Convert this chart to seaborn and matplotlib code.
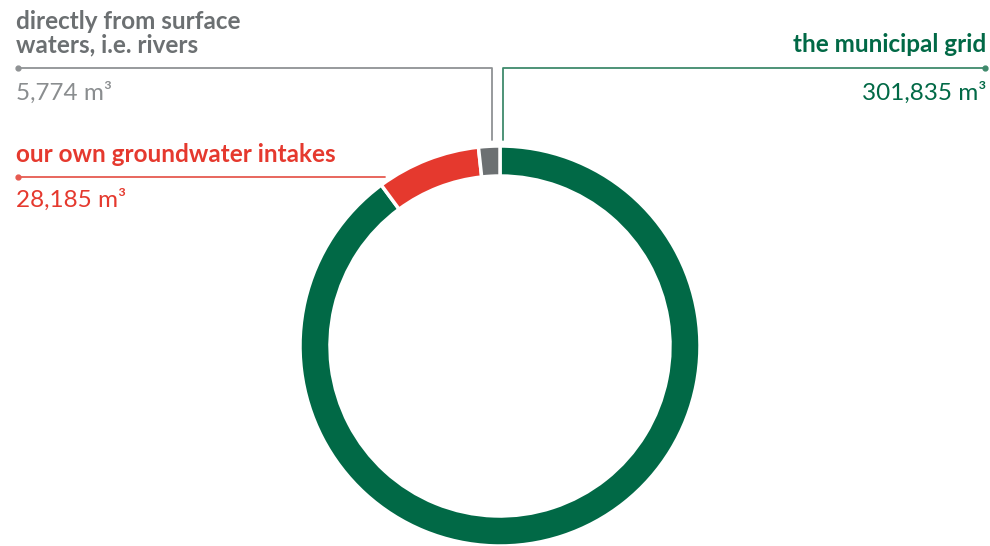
import matplotlib
matplotlib.use("Agg")
import matplotlib.pyplot as plt
import seaborn as sns

# Water withdrawal by source (m³)
sources = ["the municipal grid", "our own groundwater intakes", "directly from surface\nwaters, i.e. rivers"]
volumes = [301835, 28185, 5774]
value_labels = ["301,835 m³", "28,185 m³", "5,774 m³"]

sns.set_theme(style="white")
plt.rcParams["font.family"] = ["Lato", "DejaVu Sans"]

colors = ["#016946", "#e5392e", "#6c7072"]
text_colors = ["#016946", "#e5392e", "#6c7072"]
value_colors = ["#016946", "#e5392e", "#8a8d8f"]
line_colors = ["#3f8a6c", "#e65a50", "#8f9294"]

W, H = 990, 546
fig = plt.figure(figsize=(W / 100, H / 100), dpi=100)
ax = fig.add_axes([0, 0, 1, 1])

def py(y):
    return H - y

cx, cy, r = 500, 346, 200
ax.pie(volumes, colors=colors, startangle=90, counterclock=False,
       center=(cx, py(cy)), radius=r, frame=True,
       wedgeprops=dict(width=30, edgecolor="white", linewidth=2.5))
ax.set_xlim(0, W)
ax.set_ylim(0, H)
ax.set_aspect("equal")
ax.axis("off")

fs_title = 17.5
fs_value = 17.5

# municipal grid (right)
ax.plot([503, 503, 985], [py(140), py(68), py(68)], color=line_colors[0], lw=1.3)
ax.plot([985], [py(68)], "o", color=line_colors[0], ms=3.5)
ax.text(986, py(45), sources[0], ha="right", va="center", fontsize=fs_title,
        fontweight="bold", color=text_colors[0])
ax.text(986, py(93), value_labels[0], ha="right", va="center", fontsize=fs_value,
        color=value_colors[0])

# groundwater intakes (left, middle)
ax.plot([18, 385], [py(177), py(177)], color=line_colors[1], lw=1.3)
ax.plot([18], [py(177)], "o", color=line_colors[1], ms=3.5)
ax.text(16, py(154), sources[1], ha="left", va="center", fontsize=fs_title,
        fontweight="bold", color=text_colors[1])
ax.text(16, py(200), value_labels[1], ha="left", va="center", fontsize=fs_value,
        color=value_colors[1])

# surface waters (left, top)
ax.plot([18, 492, 492], [py(68), py(68), py(140)], color=line_colors[2], lw=1.3)
ax.plot([18], [py(68)], "o", color=line_colors[2], ms=3.5)
ax.text(16, py(33), sources[2], ha="left", va="center", fontsize=fs_title,
        fontweight="bold", color=text_colors[2], linespacing=1.0)
ax.text(16, py(93), value_labels[2], ha="left", va="center", fontsize=fs_value,
        color=value_colors[2])

fig.savefig("out.png", dpi=100, facecolor="white")
